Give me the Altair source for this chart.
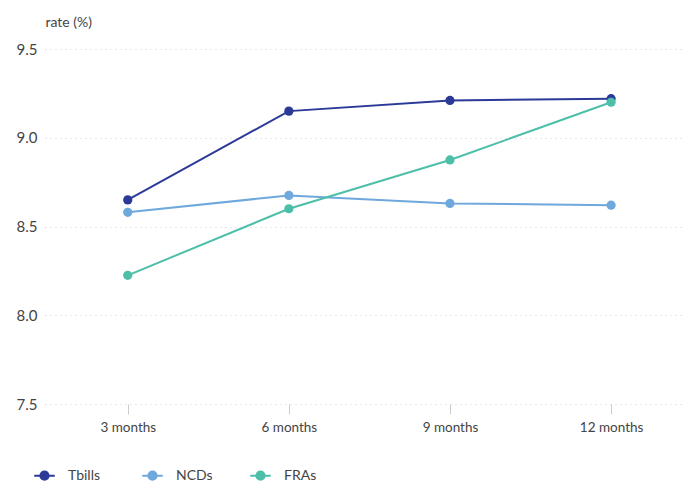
import altair as alt
import pandas as pd

tenors = ["3 months", "6 months", "9 months", "12 months"]
tbills = [8.65, 9.15, 9.21, 9.22]
ncds = [8.58, 8.675, 8.63, 8.62]
fras = [8.225, 8.60, 8.875, 9.20]
series_names = ["Tbills", "NCDs", "FRAs"]
series_colors = ["#2b3a97", "#6fa8dc", "#4dbfa8"]
y_ticks = [7.5, 8.0, 8.5, 9.0, 9.5]

rows = []
for name, vals in zip(series_names, [tbills, ncds, fras]):
    for t, v in zip(tenors, vals):
        rows.append({"tenor": t, "rate": v, "series": name})
df = pd.DataFrame(rows)

legend_symbol = "M-1,0H-0.4M0.4,0H1M-0.4,0A0.4,0.4,0,1,0,0.4,0A0.4,0.4,0,1,0,-0.4,0Z"

x = alt.X("tenor:N", sort=tenors,
          scale=alt.Scale(type="point", padding=0.48, align=0.535),
          axis=alt.Axis(title=None, domain=False, grid=False, ticks=True,
                        tickSize=10, tickColor="#cccccc", tickWidth=1,
                        labelAngle=0, labelFontSize=13.5, labelColor="#444444",
                        labelPadding=6, labelFont="Lato"))
y = alt.Y("rate:Q", scale=alt.Scale(domain=[7.5, 9.5], nice=False, zero=False),
          axis=alt.Axis(values=y_ticks, format=".1f", domain=False, ticks=False,
                        grid=True, gridColor="#cfcfcf", gridDash=[1, 4],
                        gridWidth=1, labelFontSize=15, labelColor="#444444",
                        labelPadding=8, labelFont="Lato",
                        title="rate (%)", titleAngle=0, titleX=0, titleY=-27,
                        titleAlign="left", titleBaseline="middle",
                        titleFontSize=14, titleFontWeight="normal",
                        titleColor="#444444", titleFont="Lato"))
color = alt.Color("series:N", sort=series_names,
                  scale=alt.Scale(domain=series_names, range=series_colors),
                  legend=alt.Legend(title=None, orient="none", direction="horizontal",
                                    legendX=-12, legendY=415,
                                    symbolType=legend_symbol, symbolSize=420,
                                    symbolStrokeWidth=2, symbolOpacity=1,
                                    labelFontSize=14, labelColor="#444444",
                                    labelFont="Lato", labelOffset=12,
                                    gridAlign="all", columnPadding=33))

base = alt.Chart(df).encode(x=x, y=y, color=color)
lines = base.mark_line(strokeWidth=2)
points = base.mark_circle(size=85, opacity=1)

chart = (lines + points).properties(
    width=638, height=355,
    autosize=alt.AutoSizeParams(type="none"),
    padding={"left": 37, "top": 41, "right": 0, "bottom": 80},
).configure(font="Lato").configure_view(strokeWidth=0, stroke="transparent").configure_axis(domain=False)

chart.save("out.html", embed_options={"renderer": "svg", "actions": False})
